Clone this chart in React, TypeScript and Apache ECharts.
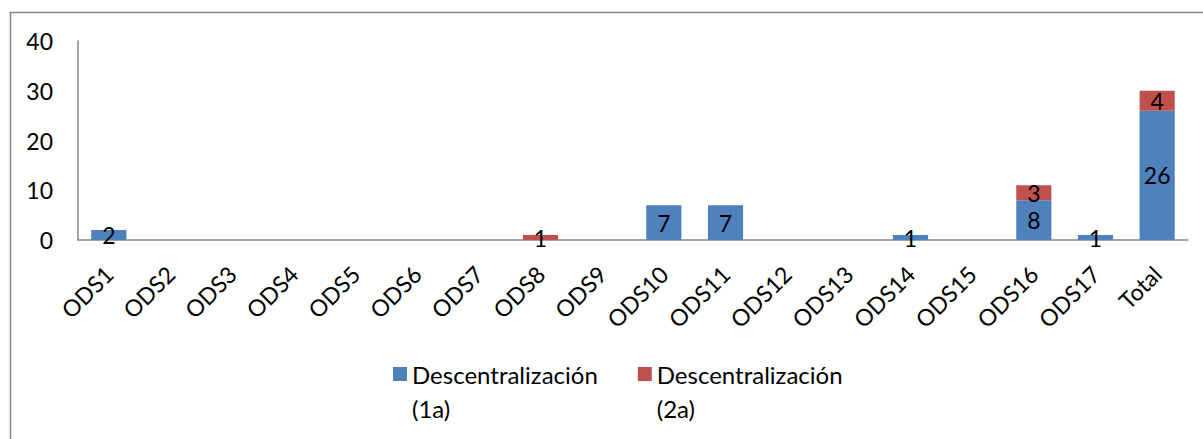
import React, { useEffect, useRef } from "react";
import * as echarts from "echarts";

const categories = ["ODS1","ODS2","ODS3","ODS4","ODS5","ODS6","ODS7","ODS8","ODS9","ODS10","ODS11","ODS12","ODS13","ODS14","ODS15","ODS16","ODS17","Total"];
const serie1a = [2,0,0,0,0,0,0,0,0,7,7,0,0,1,0,8,1,26];
const serie2a = [0,0,0,0,0,0,0,1,0,0,0,0,0,0,0,3,0,4];
const seriesNames = ["Descentralización (1a)", "Descentralización (2a)"];
const yTicks = { min: 0, max: 40, interval: 10 };

const FONT = "Lato";
const FS = 23;

export default function App() {
  const ref = useRef<HTMLDivElement>(null);
  useEffect(() => {
    if (!ref.current) return;
    const chart = echarts.init(ref.current, null, { renderer: "svg" });
    const label = {
      show: true,
      position: "inside",
      color: "#000",
      fontFamily: FONT,
      fontSize: FS,
      formatter: (p: any) => (p.value ? String(p.value) : ""),
    };
    chart.setOption({
      animation: false,
      backgroundColor: "#fff",
      textStyle: { fontFamily: FONT },
      grid: { left: 78, right: 15, top: 41, bottom: 199, containLabel: false },
      graphic: [
        {
          type: "rect",
          left: 8,
          top: 10,
          shape: { width: 1210, height: 450 },
          style: { fill: "none", stroke: "#888", lineWidth: 1.5 },
          silent: true,
        },
      ],
      legend: {
        left: 388,
        top: 323,
        itemWidth: 14,
        itemHeight: 14,
        itemGap: 40,
        icon: "rect",
        formatter: (name: string) => {
          const i = name.indexOf(" (");
          return "{e| }\n{a|" + name.slice(0, i) + "}\n{a|" + name.slice(i + 1) + "}";
        },
        textStyle: {
          fontFamily: FONT,
          fontSize: 24,
          color: "#000",
          rich: {
            e: { fontSize: 24, lineHeight: 34, fontFamily: FONT },
            a: { fontSize: 24, lineHeight: 34, fontFamily: FONT, color: "#000" },
          },
        },
        data: seriesNames,
      },
      xAxis: {
        type: "category",
        data: categories,
        axisLine: { lineStyle: { color: "#868686", width: 1.5 } },
        axisTick: { show: false },
        axisLabel: {
          rotate: 45,
          interval: 0,
          margin: 30,
          color: "#000",
          fontFamily: FONT,
          fontSize: FS,
        },
      },
      yAxis: {
        type: "value",
        min: yTicks.min,
        max: yTicks.max,
        interval: yTicks.interval,
        axisLine: { show: true, lineStyle: { color: "#868686", width: 1.5 } },
        axisTick: { show: false },
        splitLine: { show: false },
        axisLabel: { color: "#000", fontFamily: FONT, fontSize: FS, margin: 25 },
      },
      series: [
        {
          name: seriesNames[0],
          type: "bar",
          stack: "total",
          barWidth: "57%",
          data: serie1a,
          itemStyle: { color: "#4F81BD" },
          label,
        },
        {
          name: seriesNames[1],
          type: "bar",
          stack: "total",
          barWidth: "57%",
          data: serie2a,
          itemStyle: { color: "#C0504D" },
          label,
        },
      ],
    });
    return () => chart.dispose();
  }, []);
  return (
    <div
      ref={ref}
      style={{ position: "fixed", left: 0, top: 0, width: 1203, height: 439 }}
    />
  );
}
